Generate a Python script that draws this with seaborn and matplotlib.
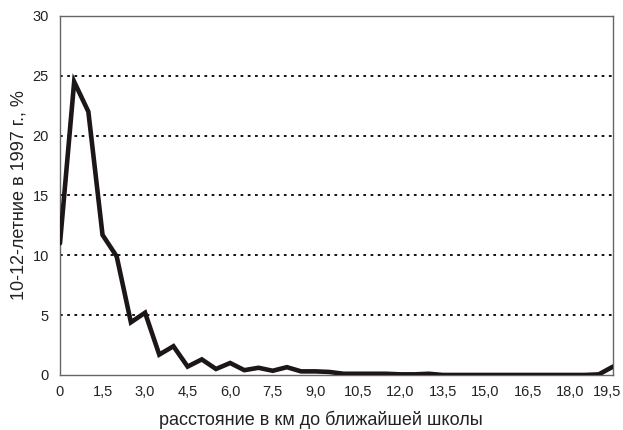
import matplotlib
matplotlib.use("Agg")
import matplotlib.pyplot as plt
import matplotlib.transforms as mtransforms
import seaborn as sns
import pandas as pd

distance_km = [0.0, 0.5, 1.0, 1.5, 2.0, 2.5, 3.0, 3.5, 4.0, 4.5, 5.0, 5.5, 6.0, 6.5,
               7.0, 7.5, 8.0, 8.5, 9.0, 9.5, 10.0, 10.5, 11.0, 11.5, 12.0, 12.5, 13.0,
               13.5, 14.0, 14.5, 15.0, 15.5, 16.0, 16.5, 17.0, 17.5, 18.0, 18.5, 19.0, 19.5]
share_pct = [11.0, 24.5, 22.0, 11.7, 9.9, 4.4, 5.2, 1.7, 2.4, 0.7, 1.3, 0.5, 1.0, 0.4,
             0.6, 0.35, 0.65, 0.3, 0.3, 0.25, 0.1, 0.1, 0.1, 0.1, 0.05, 0.05, 0.1,
             0.0, 0.0, 0.0, 0.0, 0.0, 0.0, 0.0, 0.0, 0.0, 0.0, 0.0, 0.05, 0.7]
x_ticks = [0, 1.5, 3.0, 4.5, 6.0, 7.5, 9.0, 10.5, 12.0, 13.5, 15.0, 16.5, 18.0, 19.5]
x_tick_labels = ["0", "1,5", "3,0", "4,5", "6,0", "7,5", "9,0", "10,5", "12,0",
                 "13,5", "15,0", "16,5", "18,0", "19,5"]
y_ticks = [0, 5, 10, 15, 20, 25, 30]

df = pd.DataFrame({"km": distance_km, "pct": share_pct})

sns.set_style("white")
plt.rcParams["font.family"] = ["Liberation Sans", "DejaVu Sans"]

fig = plt.figure(figsize=(6.23, 4.30), dpi=100)
ax = fig.add_axes([0.0963, 0.128, 0.8877, 0.835])

for y in y_ticks[1:-1]:
    ax.axhline(y, color="black", linestyle=(0, (1.5, 2.5)), linewidth=1.3, zorder=1)

sns.lineplot(data=df, x="km", y="pct", ax=ax, color="#1c1616", linewidth=3.3,
             zorder=3, solid_joinstyle="miter")

ax.set_xlim(0, 19.5)
ax.set_ylim(0, 30)
ax.set_xticks(x_ticks)
ax.set_xticklabels(x_tick_labels)
ax.set_yticks(y_ticks)
ax.tick_params(axis="both", direction="out", length=3, width=0.8, color="#555555",
               labelsize=10.5, colors="#222222")
ax.tick_params(axis="x", pad=4)
ax.tick_params(axis="y", pad=5)
for s in ax.spines.values():
    s.set_color("#666666")
    s.set_linewidth(1.0)

last = ax.get_xticklabels()[-1]
last.set_transform(last.get_transform() +
                   mtransforms.ScaledTranslation(-6 / 100, 0, fig.dpi_scale_trans))

ax.set_xlabel("расстояние в км до ближайшей школы", fontsize=13, labelpad=9, color="#222222")
ax.xaxis.label.set_x(0.472)
ax.set_ylabel("10-12-летние в 1997 г., %", fontsize=13, labelpad=3.5, color="#222222")

fig.savefig("out.png", dpi=100)
